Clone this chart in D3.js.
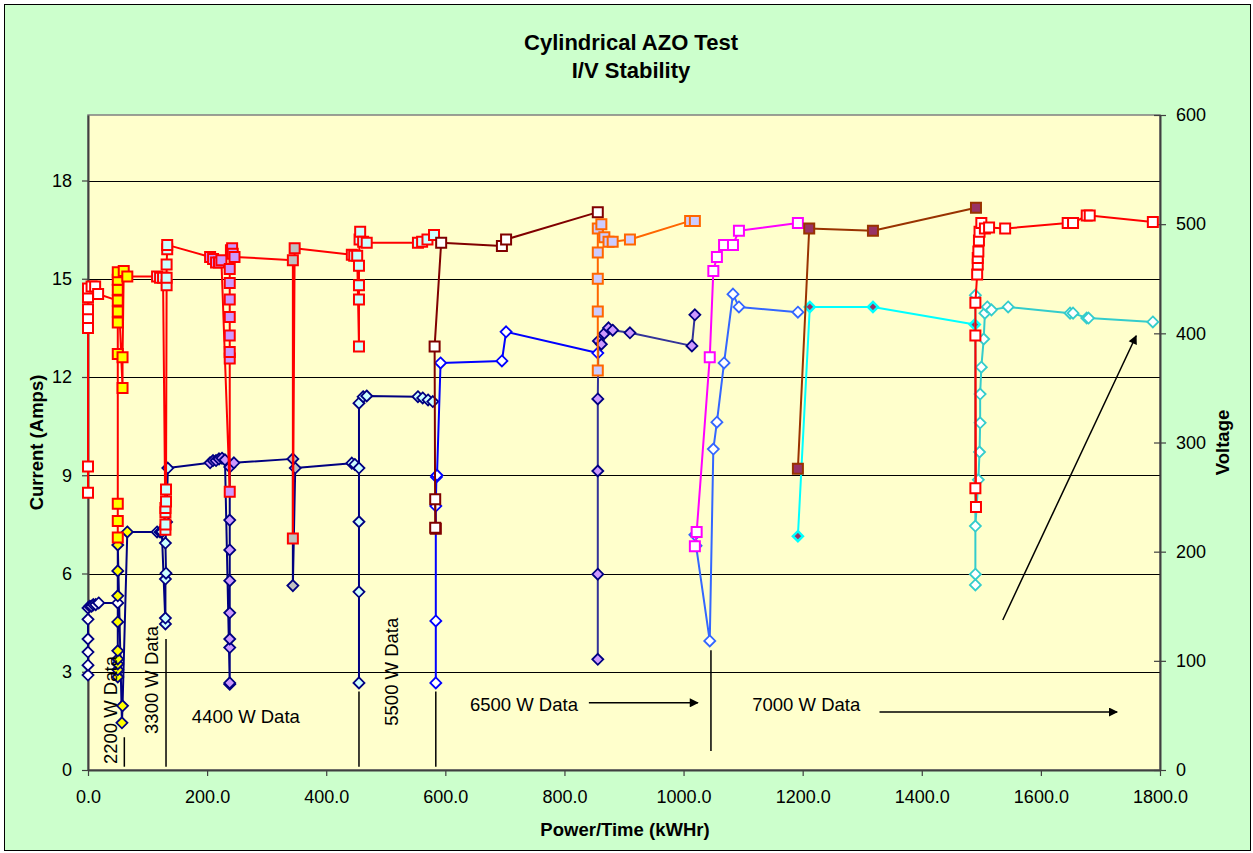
<!DOCTYPE html>
<html><head><meta charset="utf-8">
<script src="https://cdn.jsdelivr.net/npm/d3@7/dist/d3.min.js"></script>
<style>
body{margin:0;background:#fff;}
text{font-family:Arial,"Liberation Sans",sans-serif;}
</style>
</head><body>
<svg id="c" width="1253" height="853"></svg>
<script>
// ---------- DATA ----------
const titleLines = ["Cylindrical AZO Test", "I/V Stability"];
const xTickVals = [0,200,400,600,800,1000,1200,1400,1600,1800];
const iTickVals = [0,3,6,9,12,15,18];
const vTickVals = [0,100,200,300,400,500,600];
const noteLabels = ["2200 W Data","3300 W Data","4400 W Data","5500 W Data","6500 W Data","7000 W Data"];

// Current trace 1 (2200-5500 W), runs of points
const cur1X = [0,0,0,0,0,0,3,6,9,13,18,50, 50,50,50,50,50,50,50,50,50,57,58,66, 116,121,124,130,130,130,131,130,132,134, 205,210,215,220,225,230,238,238,238,238,238,238,238,238,238,245, 344,344,348, 443,448,455,455,455,455,455,462,468,554,562,571,579];
const cur1I = [2.9,3.2,3.6,4.0,4.6,4.95,5.0,5.0,5.05,5.05,5.1,5.1, 2.84,3.06,3.24,3.39,3.64,4.52,5.32,6.08,6.87,1.44,1.96,7.27, 7.27,7.27,7.27,4.46,4.64,5.83,6.01,6.93,7.57,9.22, 9.38,9.45,9.45,9.5,9.52,9.47,2.62,2.66,3.74,4.0,4.8,5.78,6.72,7.63,9.25,9.38, 9.5,5.63,9.22, 9.37,9.33,9.22,2.66,5.44,7.58,11.2,11.4,11.42,11.4,11.36,11.3,11.25];
const cur1RunLen = [12,12,10,16,3,13];
// Voltage trace 1 (2200-5500 W)
const vol1X = [0,0,0,0,0,0,0,6,12,17, 50,50,50,50,50,50,50,50,50,50,58,58,60,66, 116,121,126,130,130,130,130,131,131,132,132,132,133,133, 205,210,215,220,224,238,238,238,238,238,238,238,238,240,242,243,246, 344,344,347, 443,447,452,455,455,455,455,456,457,462,468,554,561,570,581];
const vol1V = [254,278,405,414,422,433,441,443,443,436, 430,213,228,244,381,410,420,440,449,456,350,378,457,452, 452,451,451,220,225,236,240,246,257,444,451,463,477,481, 470,468,465,465,467,255,377,383,398,415,431,446,459,476,478,473,470, 467,212,478, 472,471,471,388,431,444,462,486,493,484,483,483,484,486,490];
const vol1RunLen = [10,14,14,17,3,15];

// 6500 W
const cur2X = [584,584,584,585,586,592,695,702,856];
const cur2I = [2.66,4.55,8.06,8.95,9.0,12.43,12.49,13.38,12.73];
const vol2X = [583,584,583,582,593,695,702,856];
const vol2V = [248,221,222,388,483,480,486,511];
const cur3X = [856,856,856,856,857,862,867,874,881,910,1014,1019];
const cur3I = [3.38,5.98,9.13,11.33,13.1,13.0,13.33,13.5,13.43,13.35,12.95,13.9];
const vol3X = [856,856,856,856,856,862,867,874,881,910,1011,1019];
const vol3V = [366,420,450,474,496,500,488,484,484,486,503,503];
// 7000 W
const cur4X = [1019,1021,1044,1050,1056,1068,1083,1093,1192];
const cur4I = [7.18,6.85,3.94,9.8,10.62,12.43,14.53,14.14,13.98];
const vol4X = [1019,1022,1044,1050,1056,1068,1083,1093,1192];
const vol4V = [205,218,378,457,470,481,481,494,501];
const cur5X = [1192,1212,1318,1489];
const cur5I = [7.14,14.14,14.14,13.6];
const vol5X = [1192,1211,1318,1491];
const vol5V = [276,496,494,515];
const cur6X = [1490,1490,1490,1490,1495,1497,1498,1498,1500,1504,1506,1510,1517,1545,1649,1654,1677,1680,1788];
const cur6I = [14.5,5.65,5.98,7.45,8.86,9.71,10.6,11.48,12.3,13.16,13.95,14.14,14.05,14.14,13.95,13.95,13.8,13.8,13.68];
const vol6X = [1490,1490,1491,1490,1493,1494,1494,1495,1496,1497,1500,1506,1513,1540,1645,1654,1677,1682,1788];
const vol6V = [398,258,241,428,454,463,469,475,485,493,501,496,497,496,501,501,508,508,502];

// ---------- SETUP ----------
const svg = d3.select('#c');
const L = 88, R = 1160, T = 115, B = 770;
const x = d3.scaleLinear().domain([0,1800]).range([L,R]);
const yI = d3.scaleLinear().domain([0,20]).range([B,T]);
const yV = d3.scaleLinear().domain([0,600]).range([B,T]);

svg.append('rect').attr('x',4.5).attr('y',4.5).attr('width',1246).attr('height',846)
  .attr('fill','#CCFFCC').attr('stroke','#000').attr('stroke-width',1);
svg.append('rect').attr('x',L).attr('y',T).attr('width',R-L).attr('height',B-T)
  .attr('fill','#FFFFCC').attr('stroke','#808080').attr('stroke-width',1.5);

// gridlines
svg.append('g').selectAll('line').data(iTickVals.filter(d=>d>0)).join('line')
  .attr('x1',L).attr('x2',R).attr('y1',d=>Math.round(yI(d))+0.5).attr('y2',d=>Math.round(yI(d))+0.5)
  .attr('stroke','#000').attr('stroke-width',1);

// axes
const fs = '18px';
const ax = svg.append('g').attr('transform',`translate(0,${B})`)
  .call(d3.axisBottom(x).tickValues(xTickVals).tickFormat(d3.format('.1f')).tickSizeInner(6).tickSizeOuter(0).tickPadding(14));
const al = svg.append('g').attr('transform',`translate(${L},0)`)
  .call(d3.axisLeft(yI).tickValues(iTickVals).tickFormat(d3.format('d')).tickSizeInner(6).tickSizeOuter(0).tickPadding(10));
const ar = svg.append('g').attr('transform',`translate(${R},0)`)
  .call(d3.axisRight(yV).tickValues(vTickVals).tickFormat(d3.format('d')).tickSizeInner(6).tickSizeOuter(0).tickPadding(10));
ar.selectAll('.tick line').attr('x1',-6);
[ax,al,ar].forEach(g=>{
  g.select('.domain').attr('stroke','#404040').attr('stroke-width',2);
  g.selectAll('.tick line').attr('stroke','#404040').attr('stroke-width',1.2);
  g.selectAll('.tick text').attr('font-size',fs).attr('fill','#000').attr('font-family','Arial, "Liberation Sans", sans-serif');
});

// titles
svg.append('text').attr('x',631).attr('y',50).attr('text-anchor','middle')
  .attr('font-size','22px').attr('font-weight','bold').text(titleLines[0]);
svg.append('text').attr('x',631).attr('y',78).attr('text-anchor','middle')
  .attr('font-size','22px').attr('font-weight','bold').text(titleLines[1]);
svg.append('text').attr('x',625).attr('y',836).attr('text-anchor','middle')
  .attr('font-size','18.5px').attr('font-weight','bold').text('Power/Time (kWHr)');
svg.append('text').attr('transform',`translate(43,${(T+B)/2}) rotate(-90)`).attr('text-anchor','middle')
  .attr('font-size','18.5px').attr('font-weight','bold').text('Current (Amps)');
svg.append('text').attr('transform',`translate(1229,${(T+B)/2}) rotate(-90)`).attr('text-anchor','middle')
  .attr('font-size','18.5px').attr('font-weight','bold').text('Voltage');

// ---------- MARKS ----------
const diamond = r => `M0,${-r}L${r},0L0,${r}L${-r},0Z`;
const square = r => `M${-r},${-r}H${r}V${r}H${-r}Z`;

function expandRuns(lens){ const out=[]; lens.forEach((n,i)=>{for(let k=0;k<n;k++) out.push(i);}); return out; }

function trace(xs, ys, ys_scale, opt){
  const pts = xs.map((d,i)=>({x:d, y:ys[i], run: opt.runs ? opt.runs[i] : 0}));
  const g = svg.append('g');
  g.append('path').datum(pts)
    .attr('d', d3.line().x(d=>x(d.x)).y(d=>ys_scale(d.y)))
    .attr('fill','none').attr('stroke',opt.line).attr('stroke-width',opt.lw||2).attr('stroke-linejoin','round');
  g.selectAll('path.m').data(pts).join('path').attr('class','m')
    .attr('transform',d=>`translate(${x(d.x)},${ys_scale(d.y)})`)
    .attr('d', opt.shape==='sq' ? square(opt.r||5) : diamond(opt.r||5.5))
    .attr('fill', d=> Array.isArray(opt.fill) ? opt.fill[d.run] : opt.fill)
    .attr('stroke', opt.mstroke).attr('stroke-width', opt.msw||1.8);
}

const runFills = ['#FFFFFF','#FFFF00','#CCFFFF','#CC99FF','#C0C0C0','#CCFFFF'];

// currents (diamonds)
trace(cur1X, cur1I, yI, {line:'#000080', lw:2, shape:'di', fill:runFills, runs:expandRuns(cur1RunLen), mstroke:'#000080'});
trace(cur2X, cur2I, yI, {line:'#0000FF', lw:2, shape:'di', fill:'#FFFFFF', mstroke:'#0000FF'});
trace(cur3X, cur3I, yI, {line:'#333399', lw:2, shape:'di', fill:'#CC99FF', mstroke:'#000080'});
trace(cur4X, cur4I, yI, {line:'#3366FF', lw:2, shape:'di', fill:'#FFFFFF', mstroke:'#3366FF'});
trace(cur5X, cur5I, yI, {line:'#00FFFF', lw:2, shape:'di', r:5, fill:'#993366', mstroke:'#00FFFF', msw:2.5});
trace(cur6X, cur6I, yI, {line:'#33CCCC', lw:2, shape:'di', fill:'#FFFFFF', mstroke:'#33CCCC'});

// voltages (squares)
trace(vol1X, vol1V, yV, {line:'#FF0000', lw:2, shape:'sq', fill:runFills, runs:expandRuns(vol1RunLen), mstroke:'#FF0000', msw:2});
trace(vol2X, vol2V, yV, {line:'#800000', lw:2, shape:'sq', fill:'#FFFFFF', mstroke:'#800000', msw:2});
trace(vol3X, vol3V, yV, {line:'#FF6600', lw:2, shape:'sq', fill:'#CCCCFF', mstroke:'#FF6600', msw:2});
trace(vol4X, vol4V, yV, {line:'#FF00FF', lw:2, shape:'sq', fill:'#FFFFFF', mstroke:'#FF00FF', msw:2});
trace(vol5X, vol5V, yV, {line:'#993300', lw:2, shape:'sq', fill:'#993366', mstroke:'#993300', msw:2});
trace(vol6X, vol6V, yV, {line:'#FF0000', lw:2, shape:'sq', fill:'#FFFFFF', mstroke:'#FF0000', msw:2});

// ---------- ANNOTATIONS ----------
svg.append('defs').append('marker').attr('id','ah').attr('viewBox','0 0 10 10')
  .attr('refX',9).attr('refY',5).attr('markerWidth',11).attr('markerHeight',9)
  .attr('markerUnits','userSpaceOnUse').attr('orient','auto')
  .append('path').attr('d','M0,0L10,5L0,10Z').attr('fill','#000');

const ann = svg.append('g');
// separator lines
[[61,0.1,1.0],[131,0.1,4.0],[455,0.1,2.4],[584,0.1,2.4],[1046,0.58,3.66]].forEach(s=>{
  ann.append('line').attr('x1',x(s[0])).attr('x2',x(s[0])).attr('y1',yI(s[1])).attr('y2',yI(s[2]))
    .attr('stroke','#000').attr('stroke-width',1.5);
});
// arrows
[[841,2.05,1024,2.05],[1329,1.77,1728,1.77],[1536,4.58,1760,13.26]].forEach(a=>{
  ann.append('line').attr('x1',x(a[0])).attr('y1',yI(a[1])).attr('x2',x(a[2])).attr('y2',yI(a[3]))
    .attr('stroke','#000').attr('stroke-width',1.5).attr('marker-end','url(#ah)');
});
// labels
const notePos = [[37,1.83,-90],[107,2.75,-90],[265,1.62,0],[510,3.0,-90],[732,2.0,0],[1206,2.0,0]];
noteLabels.forEach((t,i)=>{
  const p = notePos[i];
  ann.append('text').attr('transform',`translate(${x(p[0])},${yI(p[1])}) rotate(${p[2]})`)
    .attr('text-anchor','middle').attr('dominant-baseline','central')
    .attr('font-size','18.5px').attr('fill','#000').text(t);
});
</script>
</body></html>
